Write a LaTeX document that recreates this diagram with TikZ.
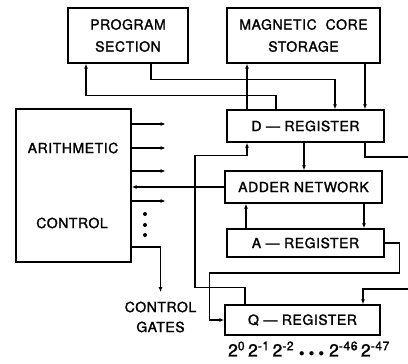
\documentclass[tikz,border=0pt]{standalone}
\usepackage{fontspec}
\setmainfont{TeX Gyre Heros}
\newfontfamily\lettering{TeX Gyre Heros}[FakeBold=1.6,LetterSpace=4]
\usetikzlibrary{arrows.meta,positioning,calc}

\begin{document}
\begin{tikzpicture}[x=1pt,y=-1pt,
    line width=1.1pt,
    unit/.style={draw,line width=1.3pt,inner sep=0pt,align=center,
      font=\lettering\fontsize{14}{22}\selectfont},
    lbl/.style={inner sep=0pt,align=center,font=\lettering\fontsize{14}{20}\selectfont},
    conn/.style={-{Latex[length=5pt,width=4pt]}}]
  \useasboundingbox (0,0) rectangle (408,364);

  % top row
  \node[unit,minimum width=120pt,minimum height=55pt] (prog) at (128,35.5) {PROGRAM\\SECTION};
  \node[unit,minimum width=153pt,minimum height=55pt] (core) at (303.5,35.5) {MAGNETIC~~CORE\\STORAGE};

  % control unit
  \node[unit,minimum width=115pt,minimum height=153pt] (arith) at (73.5,185.5) {};
  \node[lbl] (arithtxt) at (73,148) {ARITHMETIC};
  \node[lbl] (ctrltxt) at (72,223) {CONTROL};
  \node[lbl] (gates) at (160.5,317) {CONTROL\\GATES};

  % registers
  \node[unit,minimum width=157pt,minimum height=32pt] (dreg) at (305.5,126) {D \textemdash\ REGISTER};
  \node[unit,minimum width=157pt,minimum height=32pt] (adder) at (303.5,187) {ADDER NETWORK};
  \node[unit,minimum width=157pt,minimum height=28pt] (areg) at (305.5,243) {A \textemdash\ REGISTER};
  \node[unit,minimum width=155pt,minimum height=30pt] (qreg) at (302.5,320) {Q \textemdash\ REGISTER};
  \node[inner sep=0pt,font=\lettering\fontsize{17.5}{18}\selectfont] (bits) at (309,349)
    {2\textsuperscript{0}\,2\textsuperscript{-1}\,2\textsuperscript{-2}\hspace{5pt}{\fontsize{11}{11}\selectfont$\bullet\,\bullet\,\bullet$}\hspace{5pt}2\textsuperscript{-46}\,2\textsuperscript{-47}};

  \coordinate (dout) at (408,157);
  \coordinate (qin) at (408,289);

  % storage and program lines
  \draw[conn] ([xshift=23pt]prog.south) -- ++(0,16) -| ([xshift=29.5pt]dreg.north);
  \draw[conn] ([xshift=-29.5pt]dreg.north) -- ++(0,-14) -| ([xshift=-42pt]prog.south);
  \draw[conn] ([xshift=-58.5pt]dreg.north) -- ([xshift=-58.5pt]dreg.north |- core.south);
  \draw[conn] ([xshift=59.5pt]dreg.north |- core.south) -- ([xshift=59.5pt]dreg.north);

  % register lines
  \draw[conn] ([xshift=-1.5pt]dreg.south) -- ([xshift=-1.5pt]dreg.south |- adder.north);
  \draw ([xshift=59.5pt]dreg.south) |- (dout);
  \draw[conn] (adder.west) -- (adder.west -| arith.east);
  \draw[conn] ([xshift=-59.5pt]areg.north) -- ([xshift=-59.5pt]areg.north |- adder.south);
  \draw[conn] ([xshift=60.5pt]adder.south) -- ([xshift=60.5pt]adder.south |- areg.north);
  \draw[conn] (areg.east) -- ++(15,0) -- ++(0,30) -| ([xshift=-15pt]qreg.west) -- (qreg.west);
  \draw[conn] ([xshift=-57.5pt]qreg.north) -- ++(0,-17) -- ++(-50,0) -- ++(0,-132) -| ([xshift=-58.5pt]dreg.south);
  \draw[conn] (qin) -| ([xshift=60.5pt]qreg.north);

  % control outputs
  \foreach \y in {124,148,171,201}
    \draw[conn] (arith.east |- 0,\y) -- ++(34,0);
  \foreach \y in {214,225,235}
    \fill (145,\y) circle (2);
  \draw[conn] (arith.east |- 0,247) -| ([yshift=9pt]gates.north);
\end{tikzpicture}
\end{document}
